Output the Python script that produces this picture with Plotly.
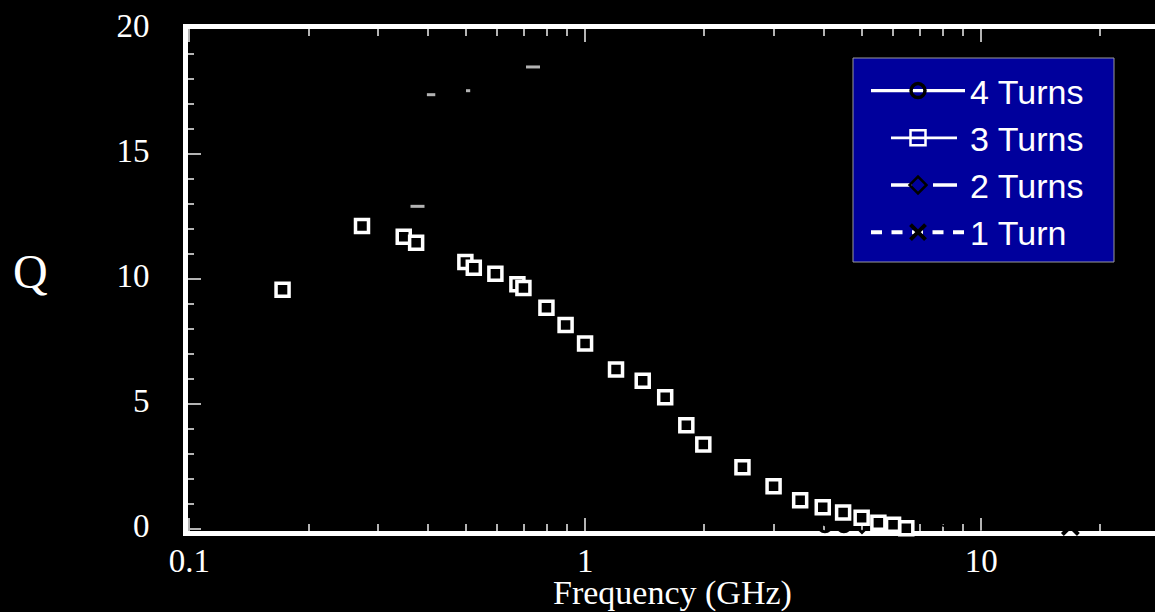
import plotly.graph_objects as go

# Quality factor of spiral inductors versus frequency
# 3-turn inductor (fully measured sweep)
freq_3t = [0.172, 0.273, 0.348, 0.374, 0.498, 0.523, 0.593, 0.674, 0.698, 0.798, 0.892, 0.999,
           1.196, 1.397, 1.592, 1.80, 1.987, 2.495, 2.99, 3.49, 3.98, 4.48, 4.99, 5.5, 5.99, 6.47]
q_3t = [9.58, 12.13, 11.70, 11.46, 10.69, 10.46, 10.22, 9.80, 9.65, 8.86, 8.17, 7.43,
        6.39, 5.94, 5.28, 4.16, 3.38, 2.47, 1.71, 1.15, 0.87, 0.66, 0.45, 0.25, 0.17, 0.03]

# Other inductors (dark traces)
freq_4t = [0.172, 4.03, 4.5]
q_4t = [9.6, 0.15, 0.15]
freq_2t = [0.172, 5.0]
q_2t = [9.6, 0.2]
freq_1t = [0.172, 9.0, 16.8]
q_1t = [9.6, -0.15, 0.1]

# Short bright dash marks
freq_marks = [0.377, 0.408, 0.506, 0.738]
q_marks = [12.92, 17.39, 17.55, 18.5]
mark_sizes = [10, 6, 3, 10]

series_names = ["4 Turns", "3 Turns", "2 Turns", "1 Turn"]

x_ticks = [0.1, 1, 10]
x_tick_text = ["0.1", "1", "10"]
x_minor = [0.2, 0.3, 0.4, 0.5, 0.6, 0.7, 0.8, 0.9, 2, 3, 4, 5, 6, 7, 8, 9, 20]

SERIF = "Liberation Serif, Times New Roman, serif"
SANS = "Liberation Sans, Arial, sans-serif"
TICK_GRAY = "#b4b4b4"

# plot-area geometry in pixels (used for paper-coordinate placement)
FIG_W, FIG_H = 1155, 612
M_L, M_R, M_T, M_B = 188, 0, 29, 81
PLOT_W = FIG_W - M_L - M_R
PLOT_H = FIG_H - M_T - M_B


def px_x(px):
    return (px - M_L) / PLOT_W


def px_y(py):
    return (FIG_H - M_B - py) / PLOT_H


fig = go.Figure()

# dark traces (black on black, only visible where they cross white elements)
fig.add_trace(go.Scatter(x=freq_4t, y=q_4t, mode="lines+markers", showlegend=False,
                         line=dict(color="black", width=2),
                         marker=dict(symbol="circle-open", size=13, color="black", line=dict(width=3)),
                         cliponaxis=False))
fig.add_trace(go.Scatter(x=freq_2t, y=q_2t, mode="lines+markers", showlegend=False,
                         line=dict(color="black", width=2),
                         marker=dict(symbol="diamond-open", size=13, color="black", line=dict(width=3)),
                         cliponaxis=False))
fig.add_trace(go.Scatter(x=freq_1t, y=q_1t, mode="lines+markers", showlegend=False,
                         line=dict(color="black", width=2),
                         marker=dict(symbol="x-thin-open", size=16, color="black", line=dict(width=4)),
                         cliponaxis=False))

fig.add_trace(go.Scatter(x=freq_marks, y=q_marks, mode="markers", showlegend=False,
                         marker=dict(symbol="line-ew-open", size=mark_sizes, color="white",
                                     line=dict(width=3, color="white"))))

# 3-turn data: white squares
fig.add_trace(go.Scatter(x=freq_3t, y=q_3t, mode="lines+markers", showlegend=False,
                         line=dict(color="black", width=2),
                         marker=dict(symbol="square", size=13, color="black",
                                     line=dict(width=3.5, color="white")),
                         cliponaxis=False))

# legend entries
legend_styles = [
    dict(line=dict(color="white", width=3.3),
         marker=dict(symbol="circle-open", size=14, color="black", line=dict(width=3.5))),
    dict(line=dict(color="white", width=2.8, dash="0px,20px,66px,100px"),
         marker=dict(symbol="square-open", size=15, color="white", line=dict(width=2.5))),
    dict(line=dict(color="white", width=3.5, dash="0px,20px,21px,21px,24px,100px"),
         marker=dict(symbol="diamond-open", size=13, color="black", line=dict(width=2.5))),
    dict(line=dict(color="white", width=4, dash="11px,9.5px"),
         marker=dict(symbol="x-thin-open", size=15, color="black", line=dict(width=4))),
]
for name, st in zip(series_names, legend_styles):
    fig.add_trace(go.Scatter(x=[None], y=[None], mode="lines+markers", name=name, **st))

# legend panel
fig.add_shape(type="rect", xref="paper", yref="paper",
              x0=px_x(853), x1=px_x(1114), y0=px_y(262), y1=px_y(58),
              fillcolor="#00009c", line=dict(color="#9a9a9a", width=1), layer="above")

fig.add_annotation(text="Q", xref="paper", yref="paper", x=px_x(30), y=px_y(271),
                   xanchor="center", yanchor="middle", showarrow=False,
                   font=dict(family=SERIF, size=48, color="white"))
fig.add_annotation(text="Frequency (GHz)", xref="paper", yref="paper", x=px_x(672), y=px_y(593),
                   xanchor="center", yanchor="middle", showarrow=False,
                   font=dict(family=SERIF, size=34, color="white"))

fig.update_layout(
    width=FIG_W, height=FIG_H,
    margin=dict(l=M_L, r=M_R, t=M_T, b=M_B, pad=0),
    paper_bgcolor="black", plot_bgcolor="black",
    showlegend=True,
    legend=dict(x=px_x(866), y=px_y(62), xanchor="left", yanchor="top",
                bgcolor="rgba(0,0,0,0)", borderwidth=0,
                font=dict(family=SANS, size=34, color="white"),
                itemwidth=94, tracegroupgap=0),
    xaxis=dict(type="log", range=[-1.0033, 1.439],
               tickvals=x_ticks, ticktext=x_tick_text,
               ticks="inside", ticklen=13, tickwidth=1.5, tickcolor=TICK_GRAY,
               minor=dict(tickvals=x_minor, ticks="inside", ticklen=7, tickwidth=1.5, tickcolor=TICK_GRAY),
               showline=True, linecolor="white", linewidth=5, mirror="ticks",
               showgrid=False, zeroline=False, layer="below traces",
               ticklabelstandoff=-4,
               tickfont=dict(family=SERIF, size=33, color="white")),
    yaxis=dict(range=[-0.079, 20.02], tickvals=[0, 5, 10, 15, 20],
               ticks="inside", ticklen=13, tickwidth=1.5, tickcolor=TICK_GRAY,
               minor=dict(dtick=1, ticks="inside", ticklen=6, tickwidth=1.5, tickcolor=TICK_GRAY),
               showline=True, linecolor="white", linewidth=5, mirror=False,
               showgrid=False, zeroline=False, layer="below traces",
               ticklabelshift=-4, ticklabelstandoff=27,
               tickfont=dict(family=SERIF, size=33, color="white")),
)

fig.write_html("out.html")
